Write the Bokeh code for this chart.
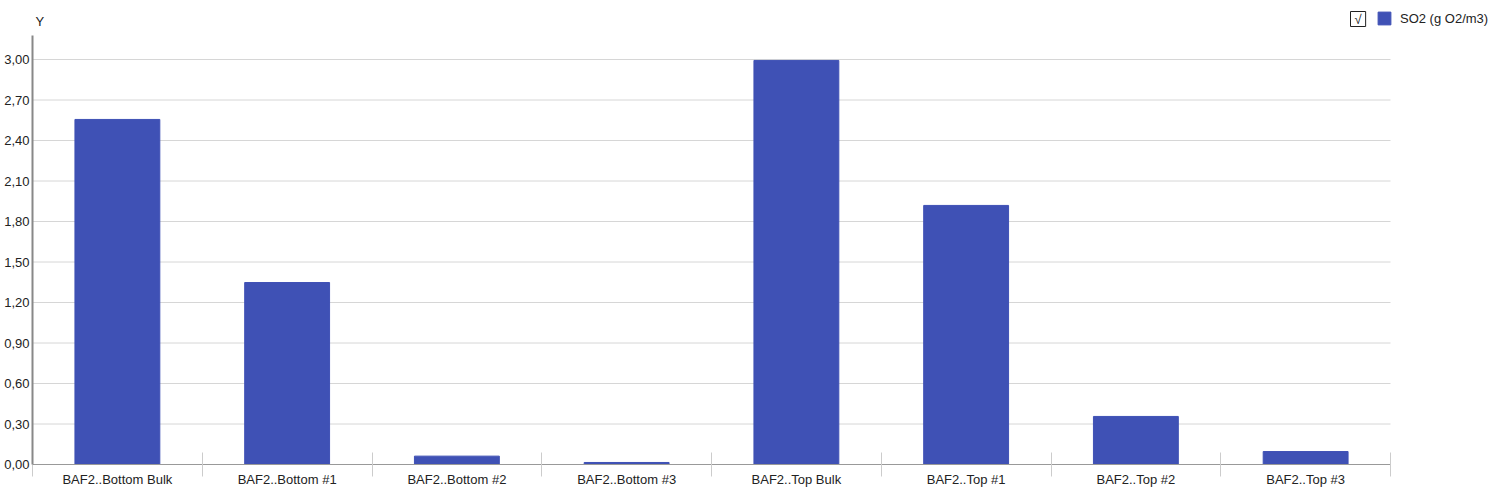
from bokeh.plotting import figure
from bokeh.models import (FixedTicker, CustomJSTickFormatter, ColumnDataSource,
                          Legend, LegendItem, Label, Range1d)
from bokeh.embed import file_html
from bokeh.resources import INLINE

categories = ["BAF2..Bottom Bulk", "BAF2..Bottom #1", "BAF2..Bottom #2", "BAF2..Bottom #3",
              "BAF2..Top Bulk", "BAF2..Top #1", "BAF2..Top #2", "BAF2..Top #3"]
so2_values = [2.556, 1.348, 0.062, 0.015, 2.993, 1.919, 0.356, 0.096]
y_ticks = [0.0, 0.3, 0.6, 0.9, 1.2, 1.5, 1.8, 2.1, 2.4, 2.7, 3.0]
series_name = "SO2 (g O2/m3)"
y_title = "Y"

FONT = "Liberation Sans"
FS = "13px"
BAR = "#3f51b5"
GRID = "#d6d6d6"
TXT = "#222222"

n = len(categories)
positions = list(range(1, n + 1))
source = ColumnDataSource(dict(x=positions, top=so2_values, name=categories))

# layout: frame spans whole figure width/top so that legend & title are not clipped
W, H = 1490, 490
LEFT, BOTTOM = 32, 26
CAT_PX = 169.75          # pixels per category
Y_PX = 135.0             # pixels per y unit
y_axis_top = 3.178       # where the drawn value axis ends
x_end = 0.5 + (W - LEFT) / CAT_PX
y_end = (H - BOTTOM) / Y_PX

p = figure(width=W, height=H, output_backend="svg", toolbar_location=None,
           x_range=Range1d(0.5, x_end), y_range=Range1d(0, y_end),
           min_border_left=LEFT, min_border_right=0, min_border_top=0, min_border_bottom=BOTTOM)
p.outline_line_color = None
p.background_fill_color = "white"
p.border_fill_color = "white"
p.xgrid.grid_line_color = None
p.ygrid.grid_line_color = None

# horizontal grid lines limited to the category area
p.segment(x0=0.5, x1=n + 0.5, y0=y_ticks, y1=y_ticks, line_color=GRID, line_width=1)

r = p.vbar(x="x", top="top", width=0.5, source=source, fill_color=BAR, line_color=BAR)

# x axis
xa = p.xaxis[0]
xa.bounds = (0.5, n + 0.5)
xa.ticker = FixedTicker(ticks=positions, minor_ticks=[i + 0.5 for i in range(n + 1)])
xa.formatter = CustomJSTickFormatter(args=dict(labels=categories),
                                     code="return labels[Math.round(tick) - 1] || '';")
xa.major_tick_in = 0
xa.major_tick_out = 0
xa.minor_tick_in = 12
xa.minor_tick_out = 12
xa.minor_tick_line_color = "#cccccc"
xa.axis_line_color = "#999999"
xa.major_label_text_font = FONT
xa.major_label_text_font_size = FS
xa.major_label_text_color = TXT
xa.major_label_standoff = -5

# y axis
ya = p.yaxis[0]
ya.bounds = (0, y_axis_top)
ya.ticker = FixedTicker(ticks=y_ticks)
ya.formatter = CustomJSTickFormatter(code="return tick.toFixed(2).replace('.', ',');")
ya.major_tick_in = 0
ya.major_tick_out = 0
ya.minor_tick_line_color = None
ya.axis_line_color = "#888888"
ya.axis_line_width = 2
ya.major_label_text_font = FONT
ya.major_label_text_font_size = FS
ya.major_label_text_color = TXT
ya.major_label_standoff = 3

# "Y" title above the axis
p.add_layout(Label(x=3, y=443, x_units="screen", y_units="screen", text=y_title,
                   text_font=FONT, text_font_size=FS, text_color=TXT,
                   text_align="left", text_baseline="alphabetic"))

# legend
legend = Legend(items=[LegendItem(label=series_name, renderers=[r])],
                location=(1344, 438), orientation="horizontal",
                glyph_width=16, glyph_height=16, label_height=16, label_standoff=8,
                padding=0, margin=0, border_line_color=None, background_fill_alpha=0,
                label_text_font=FONT, label_text_font_size=FS, label_text_color=TXT)
p.add_layout(legend)

# checkbox mark
p.add_layout(Label(x=1318, y=438, x_units="screen", y_units="screen", text="\u221a",
                   text_font=FONT, text_font_size=FS, text_color=TXT,
                   text_align="left", text_baseline="bottom",
                   border_line_color=TXT, border_line_width=1,
                   padding=(4, 0)))

open("out.html", "w").write(file_html(p, INLINE))
